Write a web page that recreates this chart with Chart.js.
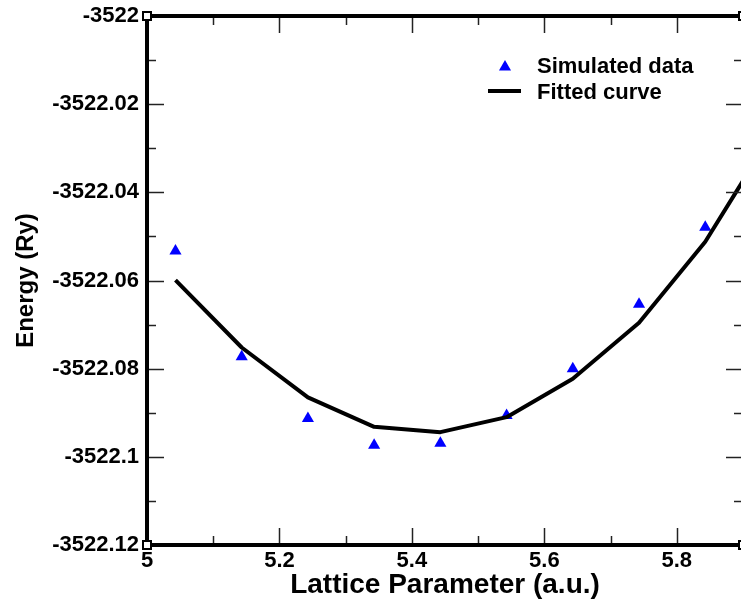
<!DOCTYPE html>
<html>
<head>
<meta charset="utf-8">
<script src="https://cdn.jsdelivr.net/npm/chart.js@4"></script>
<style>
  html, body { margin: 0; padding: 0; background: #fff; overflow: hidden; }
  #wrap { width: 741px; height: 602px; overflow: hidden; position: relative; }
  canvas { display: block; }
</style>
</head>
<body>
<div id="wrap"><canvas id="c" width="750" height="602"></canvas></div>
<script>
// ---- data ----
const simX = [5.043, 5.143, 5.243, 5.343, 5.443, 5.543, 5.643, 5.743, 5.843];
const simY = [-3522.0533, -3522.0773, -3522.0913, -3522.0974, -3522.0969, -3522.0906, -3522.0800, -3522.0654, -3522.0479];
const fitX = [5.043, 5.143, 5.243, 5.343, 5.443, 5.543, 5.643, 5.743, 5.843, 5.943];
const fitY = [-3522.0599, -3522.0752, -3522.0865, -3522.0932, -3522.0944, -3522.0910, -3522.0823, -3522.0696, -3522.0512, -3522.0270];

const xMajorTicks = [5, 5.2, 5.4, 5.6, 5.8];
const xTickLabels = ['5', '5.2', '5.4', '5.6', '5.8'];
const xMinorTicks = [5.1, 5.3, 5.5, 5.7, 5.9];
const yMajorTicks = [-3522, -3522.02, -3522.04, -3522.06, -3522.08, -3522.1, -3522.12];
const yTickLabels = ['-3522', '-3522.02', '-3522.04', '-3522.06', '-3522.08', '-3522.1', '-3522.12'];
const yMinorTicks = [-3522.01, -3522.03, -3522.05, -3522.07, -3522.09, -3522.11];

const seriesNames = ['Simulated data', 'Fitted curve'];
const xTitle = 'Lattice Parameter (a.u.)';
const yTitle = 'Energy (Ry)';

const FONT = '"Liberation Sans", Arial, Helvetica, sans-serif';

const framePlugin = {
  id: 'frame',
  afterDatasetsDraw(chart) {
    const { ctx, chartArea: a, scales: { x, y } } = chart;
    ctx.save();
    const line = (x1, y1, x2, y2) => { ctx.beginPath(); ctx.moveTo(x1, y1); ctx.lineTo(x2, y2); ctx.stroke(); };
    ctx.strokeStyle = '#222';
    ctx.lineWidth = 1.5;
    const xt = (vals, len) => vals.forEach(v => {
      const p = Math.round(x.getPixelForValue(v)) + 0.5;
      line(p, a.bottom, p, a.bottom - len);
      line(p, a.top, p, a.top + len);
    });
    const yt = (vals, len) => vals.forEach(v => {
      const p = Math.round(y.getPixelForValue(v)) + 0.5;
      line(a.left, p, a.left + len, p);
      line(a.right, p, a.right - len, p);
    });
    xt(xMajorTicks, 17); xt(xMinorTicks, 9);
    yt(yMajorTicks, 17); yt(yMinorTicks, 9);

    // frame
    ctx.strokeStyle = '#000';
    ctx.lineWidth = 4;
    ctx.strokeRect(a.left, a.top, a.right - a.left, a.bottom - a.top);
    // corner squares
    ctx.lineWidth = 2;
    [[a.left, a.top], [a.left, a.bottom], [a.right, a.top], [a.right, a.bottom]].forEach(([cx, cy]) => {
      ctx.fillStyle = '#fff';
      ctx.fillRect(cx - 4, cy - 4, 8, 8);
      ctx.strokeRect(cx - 4, cy - 4, 8, 8);
    });

    // legend (inside plot, upper right)
    const lx = 537;
    ctx.font = 'bold 22px ' + FONT;
    ctx.textAlign = 'left';
    ctx.textBaseline = 'middle';
    const tx = lx - 32, ty = 67, r = 7;
    ctx.fillStyle = '#0000ff';
    ctx.beginPath();
    ctx.moveTo(tx, ty - r);
    ctx.lineTo(tx + r * Math.sin(Math.PI / 3), ty + r / 2);
    ctx.lineTo(tx - r * Math.sin(Math.PI / 3), ty + r / 2);
    ctx.closePath();
    ctx.fill();
    ctx.fillStyle = '#000';
    ctx.fillText(seriesNames[0], lx, 67);
    ctx.strokeStyle = '#000';
    ctx.lineWidth = 4;
    line(lx - 49, 91, lx - 16, 91);
    ctx.fillText(seriesNames[1], lx, 93);
    ctx.restore();
  }
};

new Chart(document.getElementById('c'), {
  type: 'scatter',
  data: {
    datasets: [
      {
        label: seriesNames[1],
        data: fitX.map((v, i) => ({ x: v, y: fitY[i] })),
        showLine: true,
        borderColor: '#000',
        borderWidth: 4,
        pointRadius: 0,
        tension: 0,
        order: 0,
        borderJoinStyle: 'round'
      },
      {
        label: seriesNames[0],
        data: simX.map((v, i) => ({ x: v, y: simY[i] })),
        showLine: false,
        pointStyle: 'triangle',
        pointRadius: 7,
        backgroundColor: '#0000ff',
        borderWidth: 0,
        order: 1
      }
    ]
  },
  options: {
    responsive: false,
    animation: false,
    devicePixelRatio: 1,
    layout: { padding: { top: 16, right: 5, left: 0, bottom: 0 } },
    plugins: { legend: { display: false }, tooltip: { enabled: false } },
    scales: {
      x: {
        type: 'linear', min: 5, max: 5.9,
        afterBuildTicks: s => { s.ticks = xMajorTicks.map(v => ({ value: v })); },
        afterFit: s => { s.height = 57; },
        ticks: {
          callback: (v, i) => xTickLabels[i],
          font: { family: FONT, size: 22, weight: 'bold', lineHeight: 1.2 },
          color: '#000', padding: 3, maxRotation: 0, autoSkip: false
        },
        grid: { display: false, drawTicks: false, tickLength: 0 },
        border: { display: false },
        title: {
          display: true, text: xTitle, color: '#000',
          font: { family: FONT, size: 28, weight: 'bold' },
          padding: { top: 0, bottom: 0 }
        }
      },
      y: {
        type: 'linear', min: -3522.12, max: -3522,
        afterBuildTicks: s => { s.ticks = yMajorTicks.map(v => ({ value: v })); },
        afterFit: s => { s.width = 147; },
        ticks: {
          callback: (v, i) => yTickLabels[i],
          font: { family: FONT, size: 22, weight: 'bold', lineHeight: 0.6 },
          color: '#000', padding: 8, autoSkip: false
        },
        grid: { display: false, drawTicks: false, tickLength: 0 },
        border: { display: false },
        title: {
          display: true, text: yTitle, color: '#000',
          font: { family: FONT, size: 24, weight: 'bold' },
          padding: { top: 12, bottom: 0 }
        }
      }
    }
  },
  plugins: [framePlugin]
});
</script>
</body>
</html>
